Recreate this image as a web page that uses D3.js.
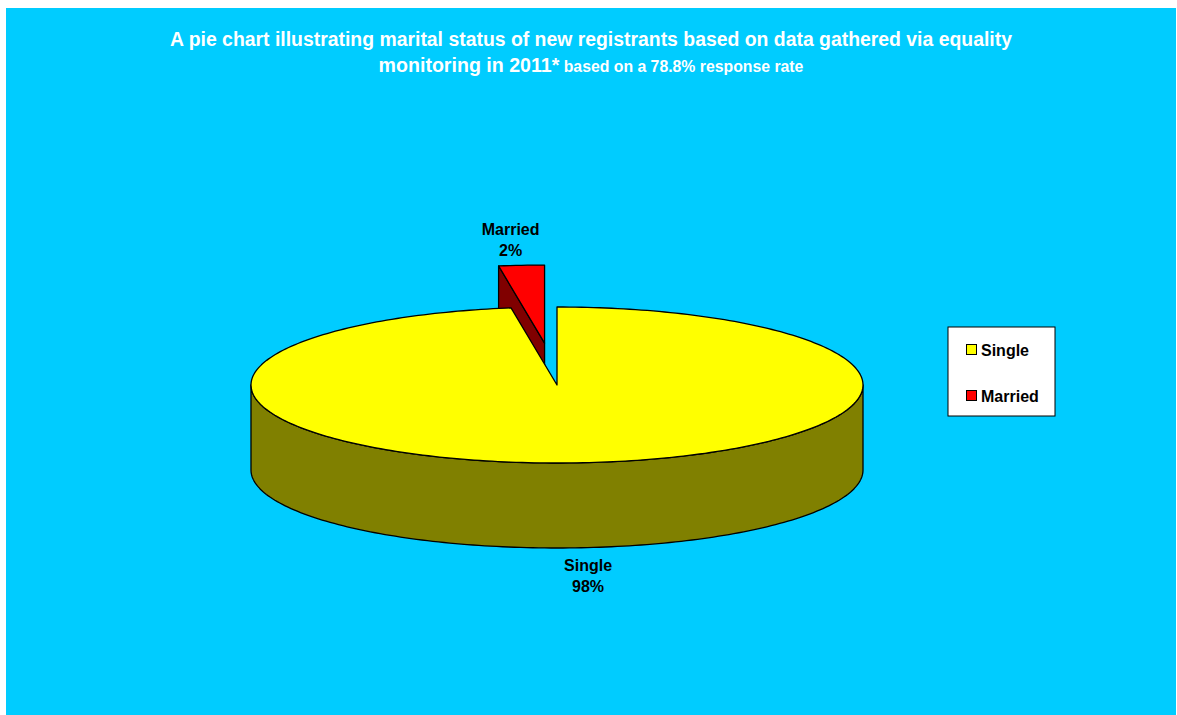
<!DOCTYPE html>
<html>
<head>
<meta charset="utf-8">
<script src="https://cdn.jsdelivr.net/npm/d3@7"></script>
<style>
  html, body { margin: 0; padding: 0; background: #fff; }
  svg { display: block; }
  text { font-family: "Liberation Sans", Arial, sans-serif; font-weight: bold; }
</style>
</head>
<body>
<svg id="chart" width="1177" height="715"></svg>
<script>
var categories = ["Single", "Married"];
var shares = [97.6, 2.4];   // labels show the rounded percentages
var topColours = ["#FFFF00", "#FF0000"];
var sideColours = ["#808000", "#800000"];
var titleLine1 = "A pie chart illustrating marital status of new registrants based on data gathered via equality";
var titleLine2a = "monitoring in 2011*";
var titleLine2b = " based on a 78.8% response rate";

var svg = d3.select("#chart");

svg.append("rect")
    .attr("x", 6).attr("y", 8)
    .attr("width", 1170).attr("height", 707)
    .attr("fill", "#00CCFF");

// title
svg.append("text")
    .attr("x", 591).attr("y", 46)
    .attr("text-anchor", "middle")
    .attr("fill", "#fff")
    .style("font-size", "19.4px")
    .text(titleLine1);

var t2 = svg.append("text")
    .attr("x", 591).attr("y", 72)
    .attr("text-anchor", "middle")
    .attr("fill", "#fff");
t2.append("tspan").style("font-size", "19.6px").text(titleLine2a);
t2.append("tspan").style("font-size", "15.8px").text(titleLine2b);

// 3d pie geometry
var cx = 557, cy = 385, rx = 306, ry = 78, depth = 85;
var explode = 165;   // in circle units, married slice only

var pie = d3.pie().sort(null).value(function(d) { return d; });
var arcs = pie(shares);

function pt(a, r, h, off) {
    return [off[0] + cx + r * Math.sin(a),
            off[1] + cy - r * Math.cos(a) * ry / rx + h];
}
function arcPoints(a0, a1, h, off) {
    var n = Math.max(2, Math.ceil(Math.abs(a1 - a0) / 0.02));
    return d3.range(n + 1).map(function(i) {
        return pt(a0 + (a1 - a0) * i / n, rx, h, off);
    });
}
var line = d3.line();

function offsetFor(i) {
    if (i !== 1) return [0, 0];
    var mid = (arcs[i].startAngle + arcs[i].endAngle) / 2;
    return [explode * Math.sin(mid), -explode * Math.cos(mid) * ry / rx];
}

function drawSlice(i) {
    var a = arcs[i], off = offsetFor(i);
    var g = svg.append("g").attr("class", "slice");
    var apexTop = pt(0, 0, 0, off), apexBot = pt(0, 0, depth, off);

    // radial face at start angle, seen from the front for the back slice
    if (i === 1) {
        var faceStart = [apexTop, pt(a.startAngle, rx, 0, off), pt(a.startAngle, rx, depth, off), apexBot];
        g.append("path").attr("d", line(faceStart) + "Z")
            .attr("fill", sideColours[i]).attr("stroke", "#000").attr("stroke-width", 1.3)
            .attr("stroke-linejoin", "round");
    }

    // outer wall, front half only
    var s = Math.max(a.startAngle, Math.PI / 2), e = Math.min(a.endAngle, Math.PI * 1.5);
    if (e > s) {
        var wall = arcPoints(s, e, 0, off).concat(arcPoints(e, s, depth, off));
        g.append("path").attr("d", line(wall) + "Z")
            .attr("fill", sideColours[i]).attr("stroke", "#000").attr("stroke-width", 1.3)
            .attr("stroke-linejoin", "round");
    }

    // top face
    var top = [apexTop].concat(arcPoints(a.startAngle, a.endAngle, 0, off));
    g.append("path").attr("d", line(top) + "Z")
        .attr("fill", topColours[i]).attr("stroke", "#000").attr("stroke-width", 1.3)
        .attr("stroke-linejoin", "round");
}

// far slice first
drawSlice(1);
drawSlice(0);

// data labels
function label(x, y, i) {
    var t = svg.append("text").attr("text-anchor", "middle").style("font-size", "16px").attr("fill", "#000");
    t.append("tspan").attr("x", x).attr("y", y).text(categories[i]);
    t.append("tspan").attr("x", x).attr("y", y + 21).text(Math.round(shares[i]) + "%");
}
var offM = offsetFor(1);
var pm = pt(arcs[1].startAngle, rx, 0, offM);
label(pm[0] + 12, pm[1] - 31, 1);
var midS = (arcs[0].startAngle + arcs[0].endAngle) / 2;
var ps = pt(midS, rx, depth, [0, 0]);
label(ps[0] + 8, ps[1] + 23, 0);

// legend
var lg = svg.append("g").attr("transform", "translate(948,327)");
lg.append("rect").attr("width", 107).attr("height", 89)
    .attr("fill", "#fff").attr("stroke", "#000").attr("stroke-width", 1);
categories.forEach(function(c, i) {
    var y = 17 + i * 46;
    lg.append("rect").attr("x", 18.5).attr("y", y + 0.5).attr("width", 10).attr("height", 10)
        .attr("fill", topColours[i]).attr("stroke", "#000").attr("stroke-width", 1);
    lg.append("text").attr("x", 33).attr("y", y + 11.5).style("font-size", "16px").text(c);
});
</script>
</body>
</html>
